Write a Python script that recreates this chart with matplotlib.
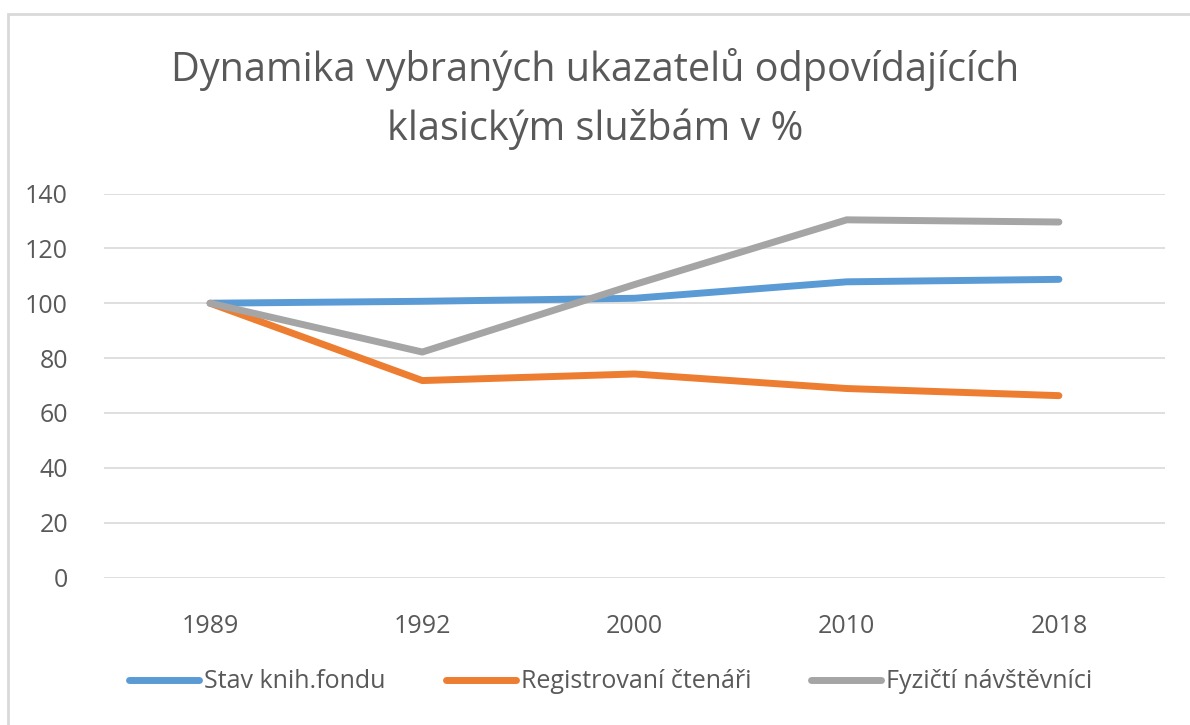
import matplotlib
matplotlib.use("Agg")
import matplotlib.pyplot as plt
from matplotlib.patches import Rectangle

plt.rcParams['font.family'] = ['Open Sans', 'DejaVu Sans']

# Data
years = ['1989', '1992', '2000', '2010', '2018']
stav_fondu = [100, 100.7, 101.8, 107.8, 108.7]
ctenari = [100, 71.8, 74.2, 68.9, 66.3]
navstevnici = [100, 82.2, 106.8, 130.4, 129.6]

series_labels = ['Stav knih.fondu', 'Registrovaní čtenáři', 'Fyzičtí návštěvníci']
colors = ['#5B9BD5', '#ED7D31', '#A5A5A5']
text_color = '#595959'

fig = plt.figure(figsize=(11.9, 7.25), dpi=100)
ax = fig.add_axes([104 / 1190, 1 - 577.5 / 725, 1061 / 1190, 384 / 725])

# chart border like Excel's chart area
fig.patches.append(Rectangle((8 / 1190, -0.1), 1.2, 1 - 14 / 725 + 0.1,
                             transform=fig.transFigure, fill=False,
                             edgecolor='#D9D9D9', linewidth=2))

x = range(len(years))
for vals, lab, col in zip([stav_fondu, ctenari, navstevnici], series_labels, colors):
    ax.plot(x, vals, color=col, linewidth=5, label=lab, solid_capstyle='round',
            solid_joinstyle='round')

ax.set_xlim(-0.5, len(years) - 0.5)
ax.set_ylim(0, 140)
ax.set_yticks(range(0, 141, 20))
ax.set_xticks(list(x))
ax.set_xticklabels(years)
ax.grid(axis='y', color='#D9D9D9', linewidth=1.2)
ax.set_axisbelow(True)
for s in ax.spines.values():
    s.set_visible(False)
ax.tick_params(axis='both', length=0, labelsize=18, labelcolor=text_color)
ax.tick_params(axis='y', pad=26)
ax.tick_params(axis='x', pad=26)

fig.text(0.5, 1 - 99 / 725, "Dynamika vybraných ukazatelů odpovídajících\nklasickým službám v %",
         ha='center', va='center', fontsize=28.5, color=text_color, linespacing=1.55)

fig.legend(loc='center', bbox_to_anchor=(611 / 1190, 1 - 682 / 725), ncol=3,
           frameon=False, fontsize=18, labelcolor=text_color, handlelength=2.8,
           handletextpad=0.2, columnspacing=2.4)

fig.savefig('out.png', dpi=100)
